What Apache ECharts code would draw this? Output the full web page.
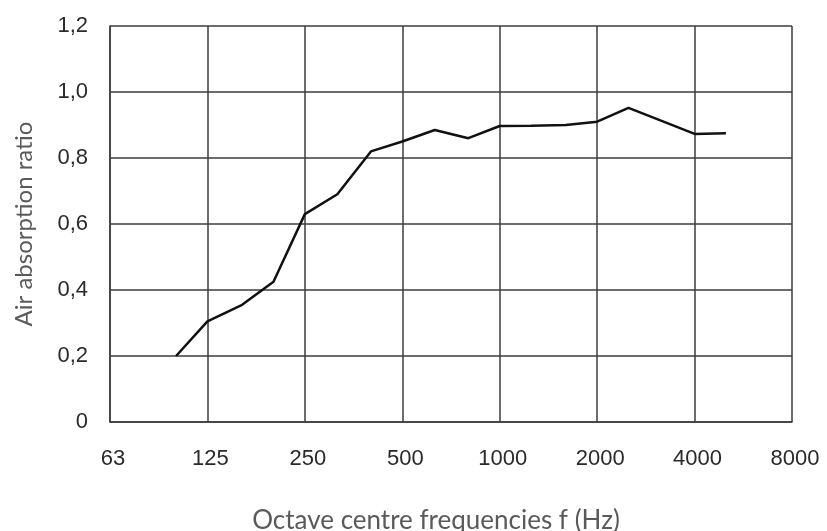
<!DOCTYPE html>
<html>
<head>
<meta charset="utf-8">
<script src="https://cdn.jsdelivr.net/npm/echarts@6/dist/echarts.min.js"></script>
<style>
html,body{margin:0;padding:0;background:#fff;}
#chart{width:827px;height:531px;}
</style>
</head>
<body>
<div id="chart"></div>
<script>
// Octave tick labels (x axis)
const octaveLabels = ['63', '125', '250', '500', '1000', '2000', '4000', '8000'];
// One-third octave centre frequencies (Hz) of the measured points
const frequencies = [100, 125, 160, 200, 250, 315, 400, 500, 630, 800, 1000, 1250, 1600, 2000, 2500, 3150, 4000, 5000];
// Air absorption ratio values
const absorption = [0.20, 0.305, 0.355, 0.425, 0.63, 0.69, 0.82, 0.85, 0.885, 0.86, 0.897, 0.898, 0.90, 0.91, 0.952, 0.913, 0.873, 0.875];
// Y tick labels
const yTicks = [0, 0.2, 0.4, 0.6, 0.8, 1.0, 1.2];

// Position on octave scale: 63 Hz (62.5) -> 0, 125 -> 1, ... 8000 -> 7
const octavePos = f => Math.log2(f / 1000) + 4;
const seriesData = frequencies.map((f, i) => [octavePos(f), absorption[i]]);

const chart = echarts.init(document.getElementById('chart'));
const gridColor = '#3c3c3c';
chart.setOption({
  animation: false,
  backgroundColor: '#ffffff',
  grid: { left: 110, right: 35, top: 26, bottom: 109, containLabel: false, outerBoundsMode: 'none' },
  xAxis: {
    type: 'value',
    min: 0, max: 7, interval: 1,
    name: 'Octave centre frequencies f (Hz)',
    nameLocation: 'middle',
    nameGap: 86,
    nameTextStyle: { fontFamily: 'Lato', fontSize: 26, color: '#5a5a5a', padding: [0, 30, 0, 0] },
    axisLine: { show: true, lineStyle: { color: gridColor, width: 1.5 } },
    axisTick: { show: false },
    axisLabel: {
      margin: 26,
      padding: [0, 0, 0, 6],
      fontFamily: 'Liberation Sans', fontSize: 22, color: '#2a2a2a',
      formatter: v => octaveLabels[Math.round(v)] || ''
    },
    splitLine: { show: true, lineStyle: { color: gridColor, width: 1.5 } }
  },
  yAxis: {
    type: 'value',
    min: 0, max: 1.2, interval: 0.2,
    name: 'Air absorption ratio',
    nameLocation: 'middle',
    nameGap: 74,
    nameRotate: 90,
    nameTextStyle: { fontFamily: 'Lato', fontSize: 24, color: '#5a5a5a' },
    axisLine: { show: true, lineStyle: { color: gridColor, width: 1.5 } },
    axisTick: { show: false },
    axisLabel: {
      margin: 22,
      fontFamily: 'Liberation Sans', fontSize: 22, color: '#2a2a2a',
      formatter: v => {
        const t = yTicks.find(y => Math.abs(y - v) < 1e-6);
        if (t === undefined) return '';
        return t === 0 ? '0' : t.toFixed(1).replace('.', ',');
      }
    },
    splitLine: { show: true, lineStyle: { color: gridColor, width: 1.5 } }
  },
  series: [{
    type: 'line',
    data: seriesData,
    showSymbol: false,
    symbol: 'none',
    lineStyle: { color: '#111', width: 2.5 },
    z: 5
  }]
});
</script>
</body>
</html>
